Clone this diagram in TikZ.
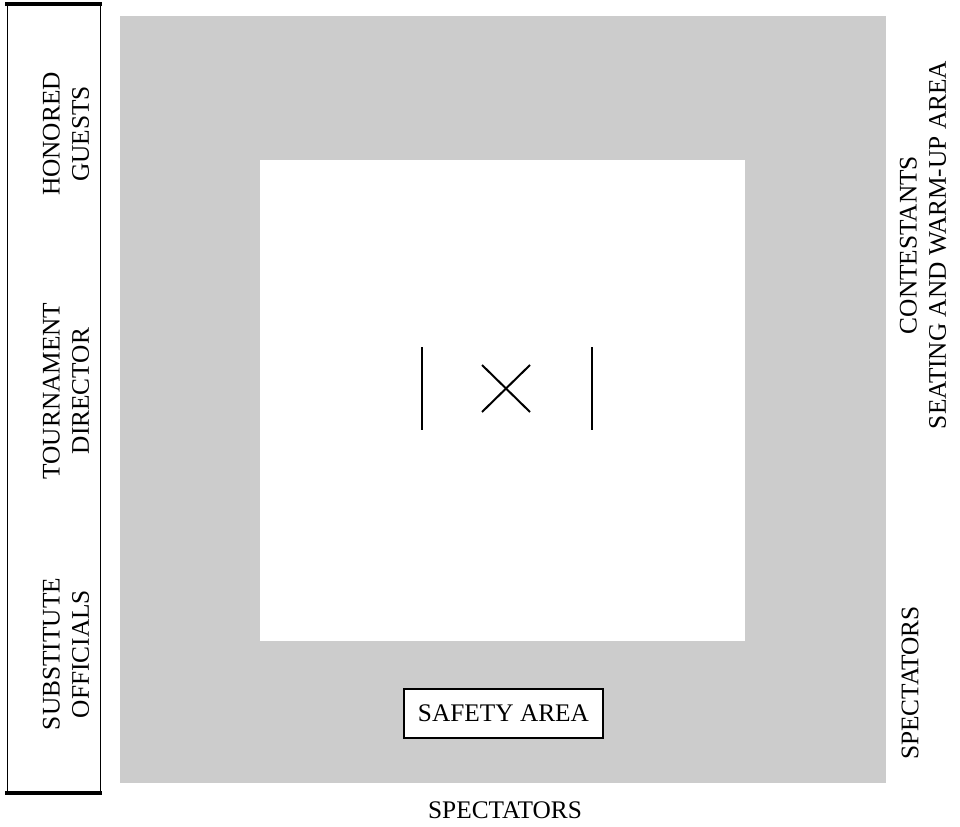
\documentclass[tikz,border=0pt]{standalone}
\usepackage{fontspec}
\setmainfont{Liberation Serif}
\usepackage{tikz}

\begin{document}
\begin{tikzpicture}[x=0.75pt,y=0.75pt,yscale=-1,xscale=1,
  lbl/.style={font=\fontsize{19}{22}\selectfont, inner sep=0pt},
  sidelbl/.style={lbl, rotate=90, align=center}]
\useasboundingbox (0,0) rectangle (960,827);

%Shape: Gray floor
\fill [color={rgb, 255:red, 204; green, 204; blue, 204 }] (120,16) rectangle (886,783) ;
%Shape: Competition square
\fill [white] (260,160) rectangle (745,641) ;

%Shape: Officials table
\draw [line width=0.75] (7,4) -- (7,793) ;
\draw [line width=0.75] (100,4) -- (100,793) ;
\draw [line width=3] (5,4) -- (102,4) ;
\draw [line width=3] (5,793) -- (102,793) ;

%Straight Lines: starting marks
\draw [line width=1.5] (422,347) -- (422,430) ;
\draw [line width=1.5] (592,347) -- (592,430) ;
\draw [line width=1.5] (482,365) -- (530,412) ;
\draw [line width=1.5] (482,412) -- (530,365) ;

% Text Node
\draw (503.5,713.5) node [lbl, draw, line width=1.5, fill=white, minimum width=149.25pt, minimum height=36.75pt] (safety) {SAFETY AREA};
% Text Node
\draw (66,134) node [sidelbl] (guests) {HONORED\\GUESTS};
% Text Node
\draw (66,391) node [sidelbl] (director) {TOURNAMENT\\DIRECTOR};
% Text Node
\draw (66,654) node [sidelbl] (officials) {SUBSTITUTE\\OFFICIALS};
% Text Node
\draw (923,245) node [sidelbl] (contestants) {CONTESTANTS\\SEATING AND WARM-UP AREA};
% Text Node
\draw (910,683) node [lbl, rotate=90] (spectright) {SPECTATORS};
% Text Node
\draw (505,810) node [lbl] (spectbottom) {SPECTATORS};

\end{tikzpicture}
\end{document}
